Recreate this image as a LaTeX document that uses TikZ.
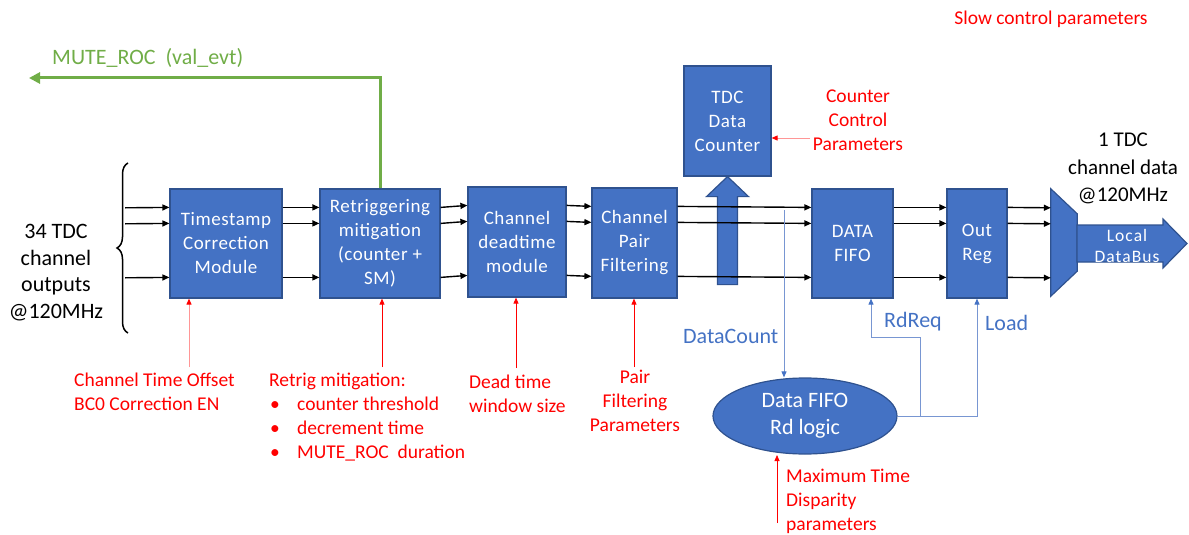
\documentclass[tikz,border=0pt]{standalone}
\usepackage{fontspec}
\setmainfont{Carlito}
\usetikzlibrary{arrows.meta,decorations.pathreplacing,shapes.geometric}
\definecolor{boxblue}{RGB}{68,114,196}
\definecolor{boxedge}{RGB}{47,82,143}
\definecolor{ctlblue}{RGB}{68,114,196}
\definecolor{ctlline}{RGB}{120,150,210}
\definecolor{mutegreen}{RGB}{112,173,71}
\definecolor{parred}{RGB}{255,0,0}
\definecolor{parpink}{RGB}{255,150,150}
\newcommand{\bulletitem}{\makebox[28pt][l]{\hspace{1pt}•}}
\begin{document}
\begin{tikzpicture}[x=1pt, y=-1pt,
        blk/.style = {draw=boxedge, fill=boxblue, line width=1.2pt, text=white,
            align=center, inner sep=0pt,
            font=\fontsize{19}{24}\selectfont\addfontfeatures{LetterSpace=3}},
        boxfill/.style = {draw=boxedge, fill=boxblue, line width=1.2pt},
        sig/.style = {line width=1.4pt, -{Triangle[length=7pt,width=6pt]}},
        ctl/.style = {draw=ctlline, line width=0.9pt,
            -{Triangle[length=6pt,width=5pt,color=ctlblue]}},
        parline/.style = {draw=parred, line width=0.8pt, -{Triangle[length=6pt,width=5pt,color=parred]}},
        parfaint/.style = {draw=parpink, line width=0.9pt, -{Triangle[length=6pt,width=5pt,color=parred]}},
        parlbl/.style = {text=parred, inner sep=0pt, font=\fontsize{19.5}{24}\selectfont},
        ctllbl/.style = {text=ctlblue, inner sep=0pt, font=\fontsize{22}{26}\selectfont},
        big/.style = {inner sep=0pt, align=center, font=\fontsize{22}{26.7}\selectfont}]
    \useasboundingbox (0,0) rectangle (1189,535);

    % processing chain
    \node[inner sep=0pt, minimum width=0pt, minimum height=109pt] (in) at (125,243.5) {};
    \node[blk, minimum width=112pt, minimum height=109pt] (tsc) at (226,243.5) {Timestamp\\Correction\\Module};
    \node[blk, minimum width=120pt, minimum height=109pt] (rtg) at (380,243.5) {Retriggering\\mitigation\\(counter +\\SM)};
    \node[blk, minimum width=98pt, minimum height=110pt] (dtm) at (517,242) {Channel\\deadtime\\module};
    \node[blk, minimum width=85pt, minimum height=110pt] (cpf) at (634.5,243) {Channel\\Pair\\Filtering};
    \node[blk, minimum width=87pt, minimum height=110pt] (cnt) at (727.5,121) {TDC\\Data\\Counter};
    \node[blk, minimum width=81pt, minimum height=109pt] (fifo) at (852.5,243.5) {DATA\\FIFO};
    \node[blk, minimum width=60pt, minimum height=109pt] (oreg) at (977,243.5) {Out\\Reg};
    \node[blk, ellipse, minimum width=184pt, minimum height=76pt,
        font=\fontsize{22}{27}\selectfont] (rdl) at (805,416) {Data FIFO\\Rd logic};
    \node[inner sep=0pt, minimum width=26pt, minimum height=107pt] (mux) at (1064,242.5) {};

    % mux and output bus
    \filldraw[boxfill] (mux.north west) -- ([yshift=-25pt]mux.north east)
        -- ([yshift=25pt]mux.south east) -- (mux.south west) -- cycle;
    \filldraw[boxfill] (1077,225) -- (1163,225) -- (1163,219) -- (1187,243.5)
        -- (1163,268) -- (1163,262) -- (1077,262) -- cycle;
    \node[text=white, align=center, inner sep=0pt,
        font=\fontsize{17.5}{21}\selectfont\addfontfeatures{LetterSpace=6}] (bus) at (1127,246) {Local\\DataBus};

    % counter feed
    \filldraw[boxfill] (cnt.south) -- ++(21,20) -- ++(-11,0) -- ++(0,88)
        -- ++(-20,0) -- ++(0,-88) -- ++(-11,0) -- cycle;

    % data lanes
    \foreach \a/\b in {in/tsc, tsc/rtg, rtg/dtm, dtm/cpf, cpf/fifo, fifo/oreg, oreg/mux}
        \foreach \d in {19,35,89}
            \draw[sig] ([yshift=-\d pt]\a.north east) -- ([yshift=-\d pt]\b.north west);

    \draw[line width=1.5pt, decorate, decoration={brace, amplitude=11pt}] (128,333) -- (128,163);
    \node[big, anchor=north] (inlbl) at (56,224) {34 TDC\\channel\\outputs\\@120MHz};
    \node[big, anchor=north, font=\fontsize{21}{27.5}\selectfont] (outlbl) at (1123,133) {1 TDC\\channel data\\@120MHz};

    % MUTE_ROC feedback
    \coordinate (mutearr) at (29,78);
    \draw[draw=mutegreen, line width=3pt, -{Triangle[length=11pt,width=11pt]}] (rtg.north) |- (mutearr);
    \node[text=mutegreen, inner sep=0pt, anchor=base west,
        font=\fontsize{22}{26}\selectfont] (mutelbl) at (52,65) {MUTE\_ROC\ \ (val\_evt)};

    % read control
    \coordinate (dc) at (784,210);
    \draw[ctl] (dc) -- (dc |- rdl.north);
    \draw[ctl] ([xshift=23pt]rdl.east) -- ++(0,-79) -| ([xshift=18.5pt]fifo.south);
    \draw[ctl] (rdl.east) -| (oreg.south);
    \node[ctllbl, anchor=base west] (dclbl) at (683,343) {DataCount};
    \node[ctllbl, anchor=base west] (rqlbl) at (884,327) {RdReq};
    \node[ctllbl, anchor=base west] (ldlbl) at (985,330) {Load};

    % slow control parameters
    \node[parlbl, anchor=north] (slow) at (1051,11) {Slow control parameters};
    \node[parlbl, align=left, anchor=north west] (tofs) at (74,373) {Channel Time Offset\\BC0 Correction EN};
    \node[parlbl, align=left, anchor=north west] (rtgp) at (269,373)
        {Retrig mitigation:\\\bulletitem counter threshold\\\bulletitem decrement time\\\bulletitem MUTE\_ROC\ \ duration};
    \node[parlbl, align=left, anchor=north west] (dtp) at (469,375) {Dead time\\window size};
    \node[parlbl, align=center, anchor=north] (cpfp) at (635,370) {Pair\\Filtering\\Parameters};
    \node[parlbl, align=left, anchor=north west] (mtd) at (786,469) {Maximum Time\\Disparity\\parameters};
    \node[parlbl, align=center, anchor=north] (ccp) at (858,90) {Counter\\Control\\Parameters};

    \coordinate (tofsT) at (189,367);
    \coordinate (rtgT) at (382,367);
    \coordinate (dtT) at (516,368);
    \coordinate (cpfT) at (634,367);
    \coordinate (mtdT) at (777,523);
    \coordinate (ccpT) at (810,138);
    \coordinate (mtdH) at (777,455);
    \draw[parfaint] (tofsT) -- (tofsT |- tsc.south);
    \draw[parline] (rtgT) -- (rtgT |- rtg.south);
    \draw[parline] (dtT) -- (dtT |- dtm.south);
    \draw[parline] (cpfT) -- (cpfT |- cpf.south);
    \draw[parline] (mtdT) -- (mtdH);
    \draw[parfaint] (ccpT) -- (ccpT -| cnt.east);
\end{tikzpicture}
\end{document}
